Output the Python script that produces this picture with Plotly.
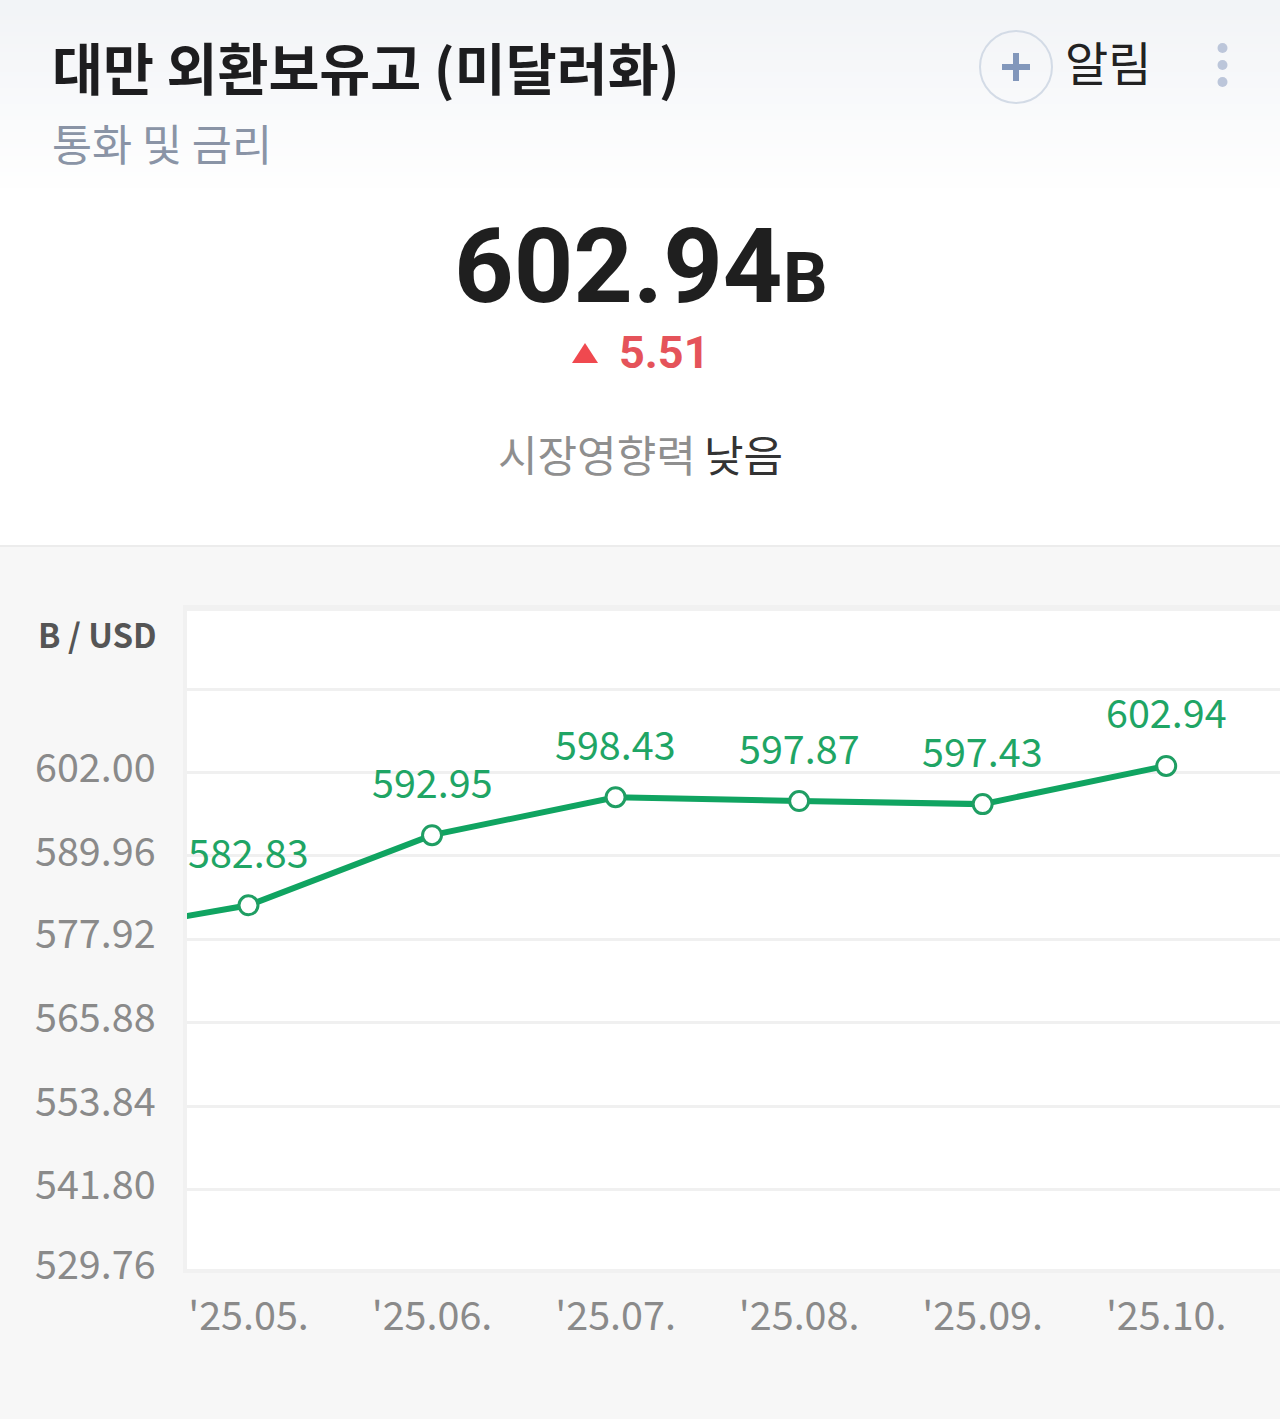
import plotly.graph_objects as go

months = ["'25.05.", "'25.06.", "'25.07.", "'25.08.", "'25.09.", "'25.10."]
values = [582.83, 592.95, 598.43, 597.87, 597.43, 602.94]
prev_value = 578.2  # April point, cut off by the left edge of the plot
y_ticks = [602.00, 589.96, 577.92, 565.88, 553.84, 541.80, 529.76]
grid_extra = [614.04]

W, H = 1280, 1419
GREEN = "#10a461"
KR = "Noto Sans CJK KR"

def px(x): return x / W
def py(y): return 1 - y / H

shapes = []
# header gradient
N = 48
for i in range(N):
    t = i / (N - 1)
    r = int(242 + (255 - 242) * t); g = int(244 + (255 - 244) * t); b = int(247 + (255 - 247) * t)
    shapes.append(dict(type="rect", xref="paper", yref="paper", x0=0, x1=1,
                       y0=py(4 * (i + 1)), y1=py(4 * i), line_width=0,
                       fillcolor=f"rgb({r},{g},{b})", layer="below"))
# chart band
shapes.append(dict(type="rect", xref="paper", yref="paper", x0=0, x1=1, y0=0, y1=py(547),
                   fillcolor="#f7f7f7", line=dict(width=0), layer="below"))
shapes.append(dict(type="line", xref="paper", yref="paper", x0=0, x1=1, y0=py(546), y1=py(546),
                   line=dict(color="#ececec", width=2), layer="below"))
# plot frame
shapes.append(dict(type="rect", xref="paper", yref="paper", x0=px(183), x1=1, y0=py(1273), y1=py(605),
                   fillcolor="#f1f1f1", line=dict(width=0), layer="below"))
shapes.append(dict(type="rect", xref="paper", yref="paper", x0=px(187), x1=1, y0=py(1269), y1=py(611),
                   fillcolor="#ffffff", line=dict(width=0), layer="below"))
# add-alert icon
shapes.append(dict(type="circle", xref="paper", yref="paper", x0=px(980), x1=px(1052), y0=py(103), y1=py(31),
                   line=dict(color="#d3dbe6", width=2), fillcolor="rgba(0,0,0,0)"))
shapes.append(dict(type="line", xref="paper", yref="paper", x0=px(1002), x1=px(1030), y0=py(67), y1=py(67),
                   line=dict(color="#8297bb", width=6)))
shapes.append(dict(type="line", xref="paper", yref="paper", x0=px(1016), x1=px(1016), y0=py(53), y1=py(81),
                   line=dict(color="#8297bb", width=6)))
# menu dots
for cy in (48, 65, 82):
    shapes.append(dict(type="circle", xref="paper", yref="paper", x0=px(1217.5), x1=px(1227.5),
                       y0=py(cy + 5), y1=py(cy - 5), line_width=0, fillcolor="#bcc6da"))
# change triangle
shapes.append(dict(type="path", xref="paper", yref="paper",
                   path=f"M {px(572)} {py(363)} L {px(598)} {py(363)} L {px(585)} {py(343)} Z",
                   line_width=0, fillcolor="#f0494f"))

def txt(x, y, s, size, color, family=KR, anchor="left", weight=None):
    t = f"<b>{s}</b>" if weight else s
    return dict(text=t, xref="paper", yref="paper", x=px(x), y=py(y), xanchor=anchor, yanchor="middle",
                showarrow=False, font=dict(size=size, color=color, family=family))

annotations = [
    txt(50, 66, "대만 외환보유고 (미달러화)", 55.4, "#1d1d1f", weight=True),
    txt(50, 142, "통화 및 금리", 43.6, "#8a94a6"),
    txt(1063, 60, "알림", 47, "#222222"),
    txt(451.5, 266, "602.94", 104, "#1f1f1f", family="Roboto", weight=True),
    txt(780.5, 278, "B", 70, "#1f1f1f", family="Roboto", weight=True),
    txt(617, 353, "5.51", 45, "#e5535a", family="Roboto", weight=True),
    txt(496, 453, "시장영향력", 43, "#8f8f8f"),
    txt(702, 453, "낮음", 43, "#333333"),
    txt(159, 634, "B / USD", 33, "#555555", anchor="right", weight=True),
]
# y tick labels kept as annotations because the last one sits above its grid line
tick_y = [764, 848, 931, 1015, 1098, 1181, 1261]
for v, yy in zip(y_ticks, tick_y):
    annotations.append(txt(157.5, yy, f"{v:.2f}", 39.5, "#8a8a8a", anchor="right"))
# value labels tied to the data
for i, v in enumerate(values):
    annotations.append(dict(text=f"{v:.2f}", xref="x", yref="y", x=i, y=v, yshift=55, xanchor="center",
                            yanchor="middle", showarrow=False,
                            font=dict(size=39.5, color="#1fa565", family=KR)))

fig = go.Figure()
fig.add_trace(go.Scatter(x=list(range(-1, 6)), y=[prev_value] + values, mode="lines",
                         line=dict(color=GREEN, width=6), hoverinfo="skip", showlegend=False))
fig.add_trace(go.Scatter(x=list(range(6)), y=values, mode="markers",
                         marker=dict(size=19, color="#ffffff", line=dict(color="#1f9e63", width=3)),
                         showlegend=False))

offset = -0.08
fig.update_layout(
    width=W, height=H, margin=dict(l=0, r=0, t=0, b=0),
    paper_bgcolor="#ffffff", plot_bgcolor="rgba(0,0,0,0)",
    shapes=shapes, annotations=annotations, showlegend=False,
    xaxis=dict(domain=[187 / W, 1], range=[-0.335, 5.62], tickmode="array",
               tickvals=list(range(6)), ticktext=months, showgrid=False, zeroline=False,
               showline=False, ticks="", ticklabelstandoff=18,
               tickfont=dict(size=39.5, color="#8a8a8a", family=KR), anchor="y"),
    yaxis=dict(domain=[py(1271), py(609)],
               range=[602 + offset - (1271 - 773) * 12.04 / 83.45, 602 + offset + (773 - 609) * 12.04 / 83.45],
               tickmode="array", tickvals=y_ticks[:-1] + grid_extra, showticklabels=False,
               showgrid=True, gridcolor="#f0f0f0", gridwidth=3, zeroline=False, showline=False, anchor="x"),
)
fig.write_html("out.html", config={"displayModeBar": False},
               post_script="document.body.style.margin='0';document.body.style.overflow='hidden';")
